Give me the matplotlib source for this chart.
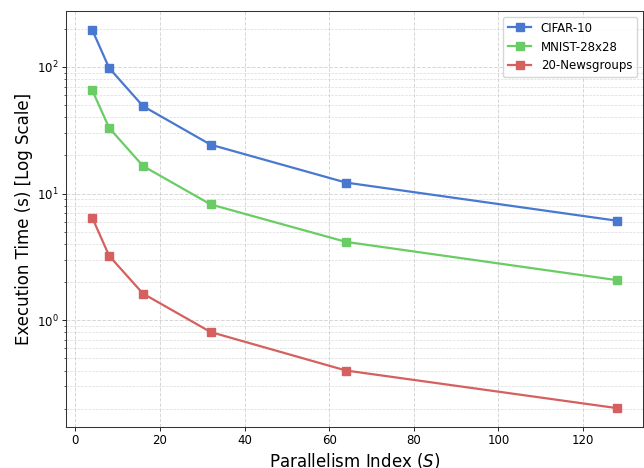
import matplotlib
matplotlib.use("Agg")
import matplotlib.pyplot as plt

parallelism = [4, 8, 16, 32, 64, 128]
cifar10 = [196, 98, 49, 24.3, 12.2, 6.1]
mnist = [65.5, 33, 16.5, 8.2, 4.15, 2.07]
newsgroups = [6.45, 3.22, 1.62, 0.805, 0.40, 0.202]
series_names = ["CIFAR-10", "MNIST-28x28", "20-Newsgroups"]
colors = ["#4878d0", "#6acc64", "#d65f5f"]

fig = plt.figure(figsize=(6.44, 4.68), dpi=100)
ax = fig.add_axes([66/644, 41/468, 577/644, 416/468])

for vals, name, c in zip([cifar10, mnist, newsgroups], series_names, colors):
    ax.plot(parallelism, vals, marker="s", markersize=5.2, linewidth=1.6, color=c, label=name)

ax.set_yscale("log")
ax.grid(True, which="major", linestyle="--", color="#cccccc", linewidth=0.7, alpha=0.8)
ax.grid(True, which="minor", linestyle="--", color="#cccccc", linewidth=0.5, alpha=0.7)
ax.set_xlabel("Parallelism Index ($S$)", fontsize=12, labelpad=3)
ax.set_ylabel("Execution Time (s) [Log Scale]", fontsize=12, labelpad=3)
ax.tick_params(which="major", labelsize=8.5, length=2.6, width=0.6, pad=2.6)
ax.tick_params(which="minor", length=1.5, width=0.45)
for s in ax.spines.values():
    s.set_color("#333333")
    s.set_linewidth(0.75)
ax.legend(loc="upper right", fontsize=8.5, handlelength=2.0, borderaxespad=0.5)

fig.savefig("out.png", dpi=100)
